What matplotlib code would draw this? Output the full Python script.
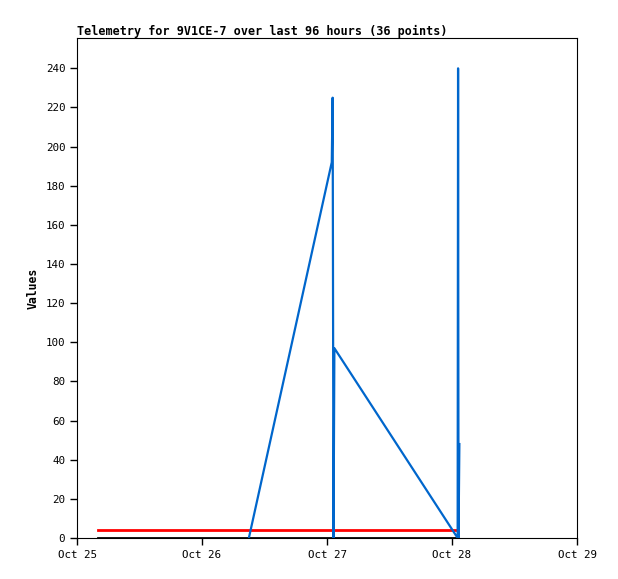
import matplotlib
matplotlib.use('Agg')
import matplotlib.pyplot as plt
from datetime import datetime

plt.rcParams['font.family'] = ['DejaVu Sans Mono']

# timestamps and values
blue_t = ['2023-10-26 09:00', '2023-10-27 00:55', '2023-10-27 01:05',
          '2023-10-27 01:15', '2023-10-27 01:25', '2023-10-28 01:05',
          '2023-10-28 01:10', '2023-10-28 01:15', '2023-10-28 01:25']
blue_v = [0, 192, 225, 0, 97, 0, 240, 0, 48]

flat_t = ['2023-10-25 04:00', '2023-10-26 04:00', '2023-10-27 04:00',
          '2023-10-28 01:05']
red_v = [4, 4, 4, 4]
black_v = [0, 0, 0, 0]

x_ticks = ['2023-10-25', '2023-10-26', '2023-10-27', '2023-10-28', '2023-10-29']
x_labels = ['Oct 25', 'Oct 26', 'Oct 27', 'Oct 28', 'Oct 29']
y_ticks = list(range(0, 241, 20))

def to_dt(lst, fmt='%Y-%m-%d %H:%M'):
    return [datetime.strptime(s, fmt) for s in lst]

fig = plt.figure(figsize=(6.18, 5.79), dpi=100)
ax = fig.add_axes([77/618, 1 - 538/579, 500/618, 500/579])

ax.plot(to_dt(flat_t), black_v, color='black', lw=2)
ax.plot(to_dt(flat_t), red_v, color='#ff0000', lw=2)
ax.plot(to_dt(blue_t), blue_v, color='#0066cc', lw=1.6)

xt = to_dt(x_ticks, '%Y-%m-%d')
ax.set_xlim(xt[0], xt[-1])
ax.set_xticks(xt)
ax.set_xticklabels(x_labels)
ax.set_ylim(0, 255.5)
ax.set_yticks(y_ticks)
ax.tick_params(labelsize=7.8, direction='out', length=5, width=1)

for s in ax.spines.values():
    s.set_linewidth(0.8)

ax.set_title('Telemetry for 9V1CE-7 over last 96 hours (36 points)',
             loc='left', fontsize=8.5, fontweight='bold', pad=1.5)
ax.set_ylabel('Values', fontsize=8.3, fontweight='bold')

fig.savefig('out.png', dpi=100)
